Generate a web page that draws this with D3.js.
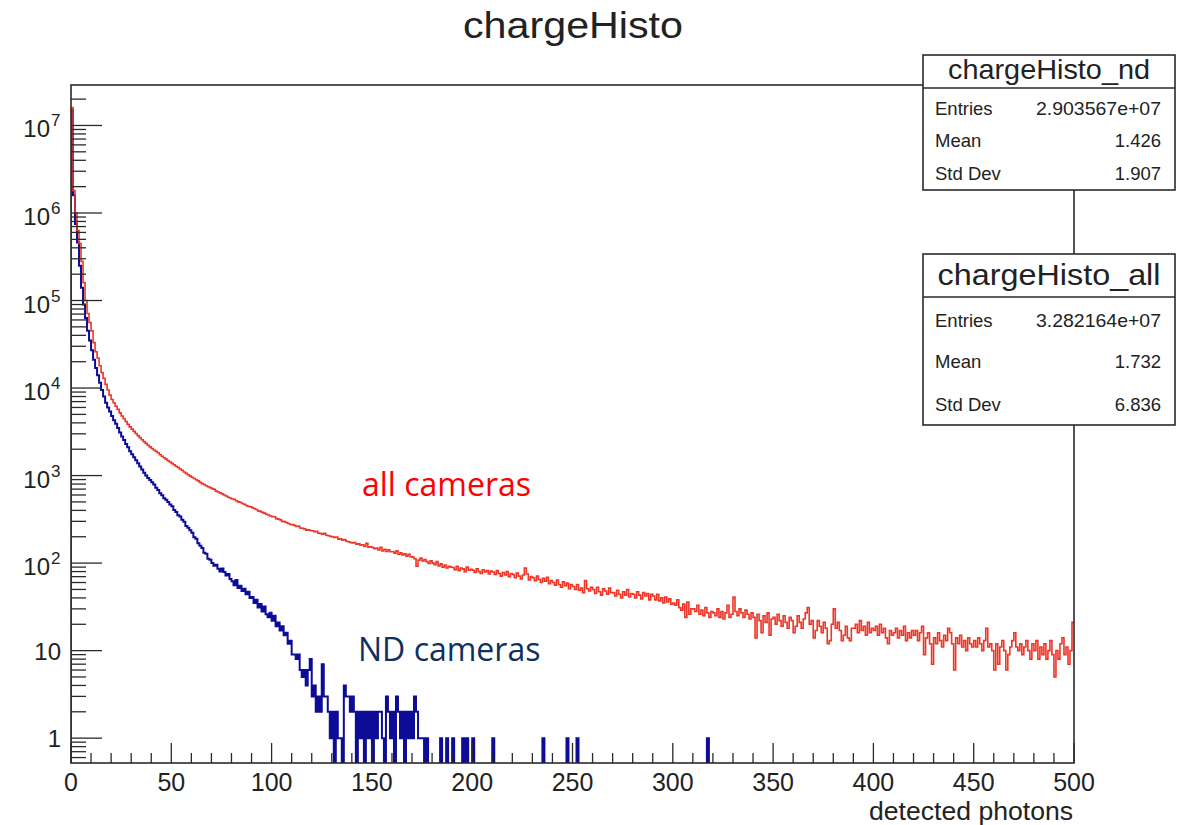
<!DOCTYPE html>
<html><head><meta charset="utf-8">
<script src="https://cdn.jsdelivr.net/npm/d3@7"></script>
<style>body{margin:0;background:#fff}svg{display:block}</style>
</head><body>
<svg id="c" width="1188" height="825"></svg>
<script>
// ---------------- data ----------------
const xRange = [0, 500];           // detected photons, 1-unit bins
const yRange = [0.52, 2.9e7];      // visible log range
const xMajorTicks = [0,50,100,150,200,250,300,350,400,450,500];
const yLabelExps = [0,1,2,3,4,5,6,7];

// chargeHisto_all (all cameras), bins 0..499
const allCounts = [
16000000,1800000,1000000,630000,450000,280000,160000,100000,71000,56000,
45000,33000,26000,22000,18000,15000,12900,11000,9500,8300,
7400,6800,6200,5700,5200,4790,4450,4150,3850,3600,
3390,3200,3020,2860,2710,2570,2440,2330,2220,2130,
2040,1960,1890,1820,1730,1660,1600,1540,1480,1430,
1380,1330,1280,1240,1190,1150,1100,1060,1020,985,
955,925,895,870,835,810,790,765,745,728,
710,695,665,650,635,617,600,585,565,555,
540,535,515,500,495,480,470,455,445,440,
430,420,410,395,390,380,372,362,355,345,
340,338,322,318,312,300,298,291,283,276,
275,270,262,265,252,250,246,238,240,236,
234,228,231,220,218,214,219,208,205,202,
200,196,199,188,190,183,186,178,175,172,
170,172,164,166,160,162,155,168,152,154,
151,146,149,141,152,138,144,136,142,135,
135,130,138,126,131,124,128,120,126,118,
117,112,92,108,114,106,110,104,99,106,
100,96,104,93,98,90,95,88,92,90,
89,84,92,82,88,86,80,90,83,85,
83,78,86,80,76,84,79,82,75,81,
79,74,82,76,71,78,73,80,70,76,
74,68,77,71,66,73,88,75,64,70,
68,63,71,65,60,67,62,69,58,63,
60,56,64,57,53,61,55,59,51,57,
54,50,57,49,52,46,63,51,48,53,
50,45,53,47,43,51,48,44,52,46,
46,42,49,44,40,47,43,50,41,45,
44,40,47,43,39,46,42,45,38,44,
42,38,44,37,40,35,41,36,39,34,
35,33,38,31,29,34,24,36,26,30,
30,28,33,26,29,25,31,27,24,28,
27,25,30,24,28,23,27,33,24,26,
41,28,25,30,27,24,29,26,23,27,
24,14,26,22,16,25,21,27,15,23,
24,20,26,22,19,25,21,18,24,22,
16,19,25,21,18,23,27,31,20,22,
14,17,22,19,16,21,18,12,13,20,
30,18,21,17,13,15,19,14,13,18,
18,20,16,22,17,19,15,21,16,18,
17,19,15,20,16,18,14,12,17,15,
16,18,14,17,15,19,13,16,14,17,
15,17,13,16,19,9,14,16,12,7,
14,12,16,13,11,15,13,18,16,12,
6,14,12,15,11,13,10,14,12,11,
13,11,14,12,10,13,18,11,12,10,
6,12,7,11,13,10,6,9,11,13,
16,11,10,12,9,11,13,10,8,12,
10,13,8,11,9,12,8,10,13,9,
5,10,8,12,14,9,11,7,10,21
];

// chargeHisto_nd (ND cameras), bins 0..179 (remaining bins empty except tail)
const ndCounts = [
15000000,1600000,750000,460000,250000,140000,90000,63000,45000,35000,
27000,21000,17000,14000,11500,9500,8000,6800,6000,5400,
4800,4300,3900,3500,3100,2800,2550,2300,2100,1900,
1750,1620,1500,1380,1270,1170,1080,1000,940,890,
840,790,725,685,628,595,550,530,498,468,
445,405,384,352,340,312,296,265,254,238,
222,198,190,168,158,149,131,128,112,109,
100,93,96,86,80,87,79,72,75,66,
62,56,64,52,55,48,51,44,47,40,
41,35,38,31,34,28,32,26,24,27,
22,25,19,21,17,19,15,16,12,13,
9,9,8,9,6,5,6,4,6,8,
3,4,2,3,2,7,3,3,2,1,
2,0,2,1,1,0,4,3,3,2,
3,2,0,2,1,2,0,2,1,2,
0,2,1,2,2,1,0,3,2,1,
2,0,3,2,1,2,0,2,1,2,
1,3,2,1,1,1,0,1,0,0
];
const ndTailBins   = [184,187,190,195,197,200,210,235,247,252,317];
const ndTailCounts = [1,1,1,1,1,1,1,1,1,1,1];

const statLabels = ["Entries","Mean","Std Dev"];
const ndStatValues  = ["2.903567e+07","1.426","1.907"];
const allStatValues = ["3.282164e+07","1.732","6.836"];

// ---------------- drawing ----------------
const svg = d3.select("#c");
const L = 71, R = 1074, T = 85, B = 763;
const x = d3.scaleLinear().domain(xRange).range([L, R]);
const y = d3.scaleLog().domain(yRange).range([B, T]);
const FONT = "'Liberation Sans', Arial, Helvetica, sans-serif";

svg.append("rect").attr("width",1188).attr("height",825).attr("fill","#fff");

// full nd series
const ndFull = d3.range(allCounts.length).map(i => i < ndCounts.length ? ndCounts[i] : 0);
ndTailBins.forEach((b,i) => { ndFull[b] = ndTailCounts[i]; });

svg.append("defs").append("clipPath").attr("id","frameClip")
  .append("rect").attr("x",L).attr("y",T).attr("width",R-L).attr("height",B-T);

function Y(c){ return c > 0 ? y(Math.max(c, yRange[0])) : B + 4; }
function stepPath(counts){
  let p = `M${x(0)},${B+4}`;
  counts.forEach((c,i) => { const yy = Y(c); p += `L${x(i)},${yy}L${x(i+1)},${yy}`; });
  return p;
}
const g = svg.append("g").attr("clip-path","url(#frameClip)");
g.append("path").attr("d", stepPath(ndFull)).attr("fill","none")
  .attr("stroke","#0c0c98").attr("stroke-width",2).attr("stroke-linejoin","miter");
g.append("path").attr("d", stepPath(allCounts)).attr("fill","none")
  .attr("stroke","#ee3526").attr("stroke-width",1.6).attr("stroke-linejoin","miter");

// frame
const axCol = "#2a2a2a";
svg.append("rect").attr("x",L).attr("y",T).attr("width",R-L).attr("height",B-T)
  .attr("fill","none").attr("stroke",axCol).attr("stroke-width",1.6);

// x ticks
const xMinor = d3.range(xRange[0], xRange[1]+1, 10);
svg.append("g").selectAll("line").data(xMinor).join("line")
  .attr("x1",d=>x(d)).attr("x2",d=>x(d))
  .attr("y1",B).attr("y2",d => xMajorTicks.includes(d) ? B-20 : B-10)
  .attr("stroke",axCol).attr("stroke-width",1.3);
svg.append("g").selectAll("text").data(xMajorTicks).join("text")
  .attr("x",d=>x(d)).attr("y",791).attr("text-anchor","middle")
  .attr("font-family",FONT).attr("font-size",25).attr("fill","#222")
  .text(d=>d);

// y ticks
const yMinor = [];
for (let e = -1; e <= 7; e++) for (let k = 1; k <= 9; k++) {
  const v = k * Math.pow(10, e);
  if (v >= yRange[0] && v <= yRange[1]) yMinor.push({v, major: k === 1});
}
svg.append("g").selectAll("line").data(yMinor).join("line")
  .attr("x1",L).attr("x2",d => L + (d.major ? 31 : 15))
  .attr("y1",d=>y(d.v)).attr("y2",d=>y(d.v))
  .attr("stroke",axCol).attr("stroke-width",1.3);
const yl = svg.append("g");
yLabelExps.forEach(e => {
  const yy = y(Math.pow(10, e));
  if (e === 0 || e === 1) {
    yl.append("text").attr("x",61).attr("y",yy+9).attr("text-anchor","end")
      .attr("font-family",FONT).attr("font-size",24).attr("fill","#222").text(e === 0 ? "1" : "10");
  } else {
    yl.append("text").attr("x",50).attr("y",yy+12).attr("text-anchor","end")
      .attr("font-family",FONT).attr("font-size",24).attr("fill","#222").text("10");
    yl.append("text").attr("x",51).attr("y",yy+1).attr("text-anchor","start")
      .attr("font-family",FONT).attr("font-size",17).attr("fill","#222").text(e);
  }
});

// title + axis title
svg.append("text").attr("x",463).attr("y",38)
  .attr("font-family",FONT).attr("font-size",37).attr("fill","#222")
  .attr("textLength",220).attr("lengthAdjust","spacingAndGlyphs").text("chargeHisto");
svg.append("text").attr("x",1073).attr("y",820).attr("text-anchor","end")
  .attr("font-family",FONT).attr("font-size",25).attr("fill","#222")
  .attr("textLength",204).attr("lengthAdjust","spacingAndGlyphs").text("detected photons");

// stat boxes
function statBox(top, hdr, bottom, title, titleSize, titleLen, titleBase, rowBases, values){
  const bx = 923, bw = 252;
  svg.append("rect").attr("x",bx).attr("y",top).attr("width",bw).attr("height",bottom-top)
    .attr("fill","#fff").attr("stroke",axCol).attr("stroke-width",1.6);
  svg.append("line").attr("x1",bx).attr("x2",bx+bw).attr("y1",hdr).attr("y2",hdr)
    .attr("stroke",axCol).attr("stroke-width",1.6);
  svg.append("text").attr("x",bx+bw/2-titleLen/2).attr("y",titleBase)
    .attr("font-family",FONT).attr("font-size",titleSize).attr("fill","#222")
    .attr("textLength",titleLen).attr("lengthAdjust","spacingAndGlyphs").text(title);
  statLabels.forEach((lab,i) => {
    svg.append("text").attr("x",935).attr("y",rowBases[i])
      .attr("font-family",FONT).attr("font-size",18.5).attr("fill","#222").text(lab);
    svg.append("text").attr("x",1161).attr("y",rowBases[i]).attr("text-anchor","end")
      .attr("font-family",FONT).attr("font-size",18.5).attr("fill","#222")
      .attr("textLength", values[i].length > 6 ? 125 : null)
      .attr("lengthAdjust","spacingAndGlyphs").text(values[i]);
  });
}
statBox(55, 88, 190, "chargeHisto_nd", 28, 202, 79, [115,147,180], ndStatValues);
statBox(254, 297, 425, "chargeHisto_all", 30, 223, 285, [327,368,411], allStatValues);

// annotations
const AF = "'Open Sans', Lato, sans-serif";
svg.append("text").attr("x",362).attr("y",496).attr("font-family",AF).attr("font-size",32)
  .attr("fill","#ff0000").text("all cameras");
svg.append("text").attr("x",358).attr("y",661).attr("font-family",AF).attr("font-size",32)
  .attr("fill","#10305f").text("ND cameras");
</script>
</body></html>
